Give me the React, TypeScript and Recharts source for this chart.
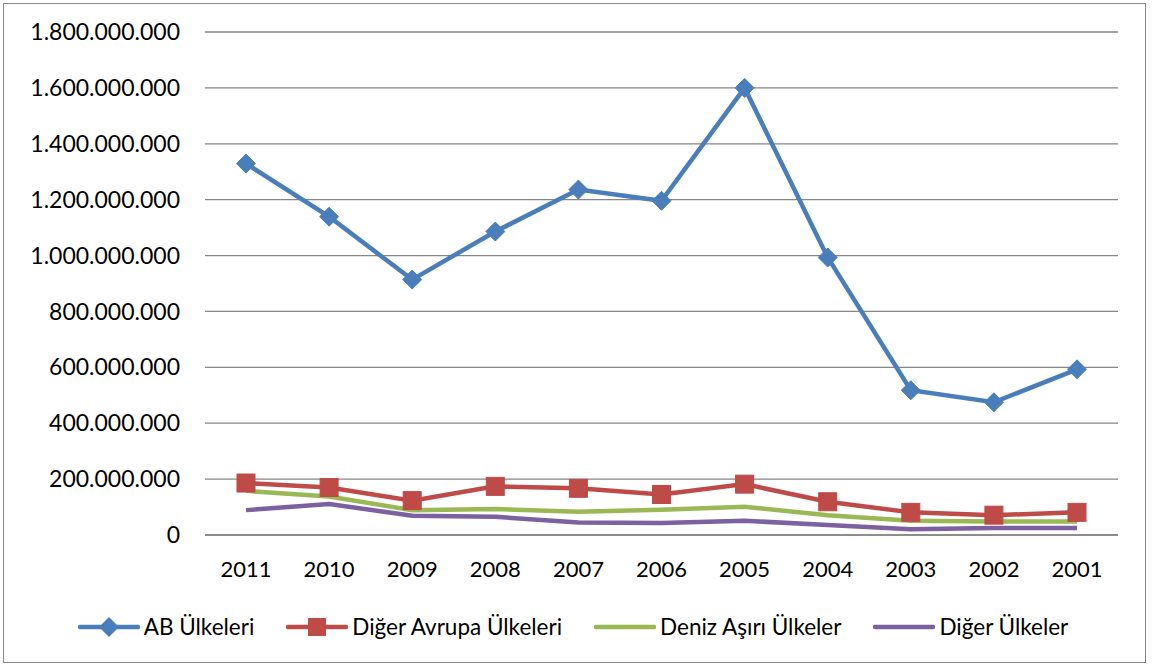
import { LineChart, Line, XAxis, YAxis, CartesianGrid, Legend } from 'recharts'

const YEARS = ['2011', '2010', '2009', '2008', '2007', '2006', '2005', '2004', '2003', '2002', '2001']
const AB = [1329e6, 1139e6, 914e6, 1086e6, 1236e6, 1196e6, 1600e6, 993e6, 518e6, 475e6, 593e6]
const DIGER_AVRUPA = [186e6, 170e6, 123e6, 174e6, 167e6, 145e6, 182e6, 119e6, 81e6, 71e6, 81e6]
const DENIZ_ASIRI = [158e6, 138e6, 89e6, 93e6, 83e6, 90e6, 101e6, 71e6, 51e6, 48e6, 48e6]
const DIGER = [89e6, 111e6, 69e6, 65e6, 45e6, 43e6, 51e6, 36e6, 21e6, 25e6, 25e6]
const Y_TICKS = [0, 200e6, 400e6, 600e6, 800e6, 1000e6, 1200e6, 1400e6, 1600e6, 1800e6]

const BLUE = '#4a7ebb'
const RED = '#be4b48'
const GREEN = '#98b954'
const PURPLE = '#7d60a0'
const GRID = '#868686'
const FONT = 'Lato, "Open Sans", sans-serif'

const SERIES = [
  { key: 'ab', name: 'AB Ülkeleri', color: BLUE, marker: 'diamond' },
  { key: 'da', name: 'Diğer Avrupa Ülkeleri', color: RED, marker: 'square' },
  { key: 'dz', name: 'Deniz Aşırı Ülkeler', color: GREEN, marker: 'none' },
  { key: 'dg', name: 'Diğer Ülkeler', color: PURPLE, marker: 'none' },
]

const data = YEARS.map((y, i) => ({
  year: y, ab: AB[i], da: DIGER_AVRUPA[i], dz: DENIZ_ASIRI[i], dg: DIGER[i],
}))

// binlik ayırıcı nokta
const fmt = (v: number) => v.toLocaleString('de-DE')

function Diamond({ cx, cy }: any) {
  const r = 9.5
  return <path d={`M${cx},${cy - r}L${cx + r},${cy}L${cx},${cy + r}L${cx - r},${cy}Z`} fill={BLUE} stroke={BLUE} />
}

function Square({ cx, cy }: any) {
  const r = 9
  return <rect x={cx - r} y={cy - r} width={r * 2} height={r * 2} fill={RED} stroke={RED} />
}

function LegendBox() {
  return (
    <div style={{ display: 'flex', justifyContent: 'center', gap: 32, fontFamily: FONT, fontSize: 22.5, color: '#000', paddingLeft: 28 }}>
      {SERIES.map((s) => (
        <div key={s.key} style={{ display: 'flex', alignItems: 'center', gap: 4 }}>
          <svg width={62} height={22}>
            <line x1={2} y1={11} x2={60} y2={11} stroke={s.color} strokeWidth={4.5} strokeLinecap="round" />
            {s.marker === 'diamond' && <path d="M31,1L41,11L31,21L21,11Z" fill={s.color} />}
            {s.marker === 'square' && <rect x={22} y={2} width={18} height={18} fill={s.color} />}
          </svg>
          <span>{s.name}</span>
        </div>
      ))}
    </div>
  )
}

export default function App() {
  return (
    <div style={{ position: 'absolute', left: 0, top: 0, width: 1152, height: 668, background: '#fff' }}>
      <div style={{ position: 'absolute', left: 3, top: 3, width: 1143, height: 660, border: '1.5px solid #888', boxSizing: 'border-box' }} />
      <LineChart width={1152} height={668} data={data} margin={{ top: 32, right: 34, left: 0, bottom: 40 }}>
        <CartesianGrid stroke={GRID} strokeWidth={1.3} vertical={false} />
        <XAxis dataKey="year" axisLine={{ stroke: GRID, strokeWidth: 1.3 }} tickLine={false}
          padding={{ left: 41, right: 41 }} interval={0}
          tick={{ fill: '#000', fontSize: 22, fontFamily: FONT }} dy={18} height={66} />
        <YAxis type="number" domain={[0, 1800e6]} ticks={Y_TICKS} tickFormatter={fmt} axisLine={false} tickLine={false}
          tick={{ fill: '#000', fontSize: 23, fontFamily: FONT }} width={205} dx={-17} interval={0} />
        <Legend verticalAlign="bottom" content={<LegendBox />} wrapperStyle={{ bottom: 28 }} />
        <Line dataKey="dg" name="Diğer Ülkeler" stroke={PURPLE} strokeWidth={4.5} dot={false} isAnimationActive={false} />
        <Line dataKey="dz" name="Deniz Aşırı Ülkeler" stroke={GREEN} strokeWidth={4.5} dot={false} isAnimationActive={false} />
        <Line dataKey="da" name="Diğer Avrupa Ülkeleri" stroke={RED} strokeWidth={4.5} dot={<Square />} isAnimationActive={false} />
        <Line dataKey="ab" name="AB Ülkeleri" stroke={BLUE} strokeWidth={4.5} dot={<Diamond />} isAnimationActive={false} />
      </LineChart>
    </div>
  )
}
